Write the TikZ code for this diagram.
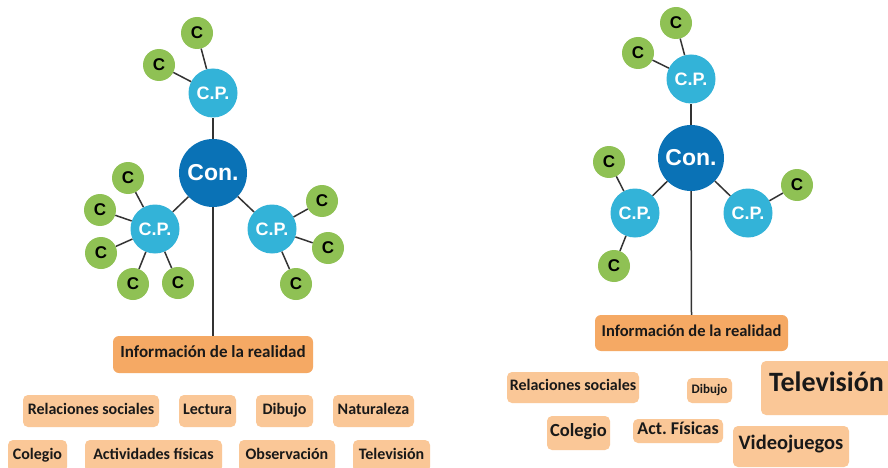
\documentclass[tikz,border=0pt]{standalone}
\usepackage{fontspec}
\setmainfont{Carlito}
\newfontfamily\roundfont{Liberation Sans}
\definecolor{conblue}{HTML}{0A72B6}
\definecolor{cpblue}{HTML}{33B3D8}
\definecolor{cgreen}{HTML}{8FC154}
\definecolor{infoorange}{HTML}{F5A964}
\definecolor{tagorange}{HTML}{FAC797}
\definecolor{linkgray}{HTML}{333333}
\tikzset{
  con/.style={circle, fill=conblue, minimum size=68pt, inner sep=0pt, text=white,
    font=\roundfont\bfseries\fontsize{23}{26}\selectfont},
  conr/.style={con, minimum size=66pt},
  cp/.style={circle, fill=cpblue, minimum size=49pt, inner sep=0pt, text=white,
    font=\roundfont\bfseries\fontsize{18}{21}\selectfont},
  cc/.style={circle, fill=cgreen, minimum size=32pt, inner sep=0pt, text=black,
    font=\roundfont\bfseries\fontsize{17}{19}\selectfont},
  info/.style={rounded corners=6pt, fill=infoorange, inner sep=0pt, text=black!90,
    text height=0.62em, text depth=0pt,
    font=\bfseries\fontsize{17}{20}\selectfont},
  tag/.style={rounded corners=5pt, fill=tagorange, inner sep=0pt, text=black!90,
    text height=0.62em, text depth=0pt,
    font=\bfseries\fontsize{16}{19}\selectfont},
  link/.style={draw=linkgray, line width=1.5pt},
}
\begin{document}
\begin{tikzpicture}[x=1pt, y=-1pt]
\clip (0,0) rectangle (888,468);
\useasboundingbox (0,0) rectangle (888,468);
\fill[white] (0,0) rectangle (888,468);

% ---------- left concept map ----------
\node[con] (L) at (213,173) {Con.};
\node[cp] (Lt) at (213,93) {C.P.};
\node[cp] (Ll) at (155,229) {C.P.};
\node[cp] (Lr) at (272,229) {C.P.};
\node[cc] (Lt1) at (197,33) {C};
\node[cc] (Lt2) at (159,65) {C};
\node[cc] (Ll1) at (128,178) {C};
\node[cc] (Ll2) at (100,210) {C};
\node[cc] (Ll3) at (101,253) {C};
\node[cc] (Ll4) at (133,284) {C};
\node[cc] (Ll5) at (178,283) {C};
\node[cc] (Lr1) at (322,201) {C};
\node[cc] (Lr2) at (328,248) {C};
\node[cc] (Lr3) at (296,284) {C};
\node[info, minimum width=200pt, minimum height=37pt] (Linfo) at (213,354.5) {Información de la realidad};

\foreach \a/\b in {L/Lt, L/Ll, L/Lr, Lt/Lt1, Lt/Lt2, Ll/Ll1, Ll/Ll2, Ll/Ll3, Ll/Ll4, Ll/Ll5, Lr/Lr1, Lr/Lr2, Lr/Lr3}
  \draw[link] (\a) -- (\b);
\draw[link] (L.south) -- (Linfo.north);

\node[tag, minimum width=136pt, minimum height=32pt] (Lrs) at (91,411) {Relaciones sociales};
\node[tag, minimum width=57pt, minimum height=32pt] (Llec) at (207.5,411) {Lectura};
\node[tag, minimum width=57pt, minimum height=32pt] (Ldib) at (284.5,411) {Dibujo};
\node[tag, minimum width=81pt, minimum height=32pt] (Lnat) at (373.5,411) {Naturaleza};
\node[tag, minimum width=59pt, minimum height=32pt] (Lcol) at (37.5,456) {Colegio};
\node[tag, minimum width=137pt, minimum height=32pt] (Lact) at (153.5,456) {Actividades físicas};
\node[tag, minimum width=96pt, minimum height=32pt] (Lobs) at (287,456) {Observación};
\node[tag, minimum width=77pt, minimum height=32pt] (Ltel) at (391.5,456) {Televisión};

% ---------- right concept map ----------
\node[conr] (R) at (691,158) {Con.};
\node[cp] (Rt) at (691,79) {C.P.};
\node[cp] (Rl) at (635,213) {C.P.};
\node[cp] (Rr) at (748,213) {C.P.};
\node[cc] (Rt1) at (676,23) {C};
\node[cc] (Rt2) at (638,53) {C};
\node[cc] (Rl1) at (609,162) {C};
\node[cc] (Rl2) at (614,266) {C};
\node[cc] (Rr1) at (797,185) {C};
\node[info, minimum width=193pt, minimum height=36pt, font=\bfseries\fontsize{16.5}{19}\selectfont] (Rinfo) at (691.5,333) {Información de la realidad};

\foreach \a/\b in {R/Rt, R/Rl, R/Rr, Rt/Rt1, Rt/Rt2, Rl/Rl1, Rl/Rl2, Rr/Rr1}
  \draw[link] (\a) -- (\b);
\draw[link] (R.south) -- (Rinfo.north);

\node[tag, minimum width=132pt, minimum height=31pt, font=\bfseries\fontsize{16}{19}\selectfont] (Rrs) at (573,387.5) {Relaciones sociales};
\node[tag, minimum width=45pt, minimum height=25pt, font=\bfseries\fontsize{13}{15}\selectfont] (Rdib) at (709.5,390.5) {Dibujo};
\node[tag, minimum width=131pt, minimum height=54pt, font=\bfseries\fontsize{28}{32}\selectfont] (Rtel) at (826.5,388) {Televisión};
\node[tag, minimum width=63pt, minimum height=34pt, font=\bfseries\fontsize{18.5}{21}\selectfont] (Rcol) at (578.5,433) {Colegio};
\node[tag, minimum width=90pt, minimum height=24pt, font=\bfseries\fontsize{18}{21}\selectfont] (Ract) at (678,431) {Act.\ Físicas};
\node[tag, minimum width=116pt, minimum height=41pt, font=\bfseries\fontsize{20.5}{23}\selectfont] (Rvid) at (791,446.5) {Videojuegos};
\end{tikzpicture}
\end{document}
